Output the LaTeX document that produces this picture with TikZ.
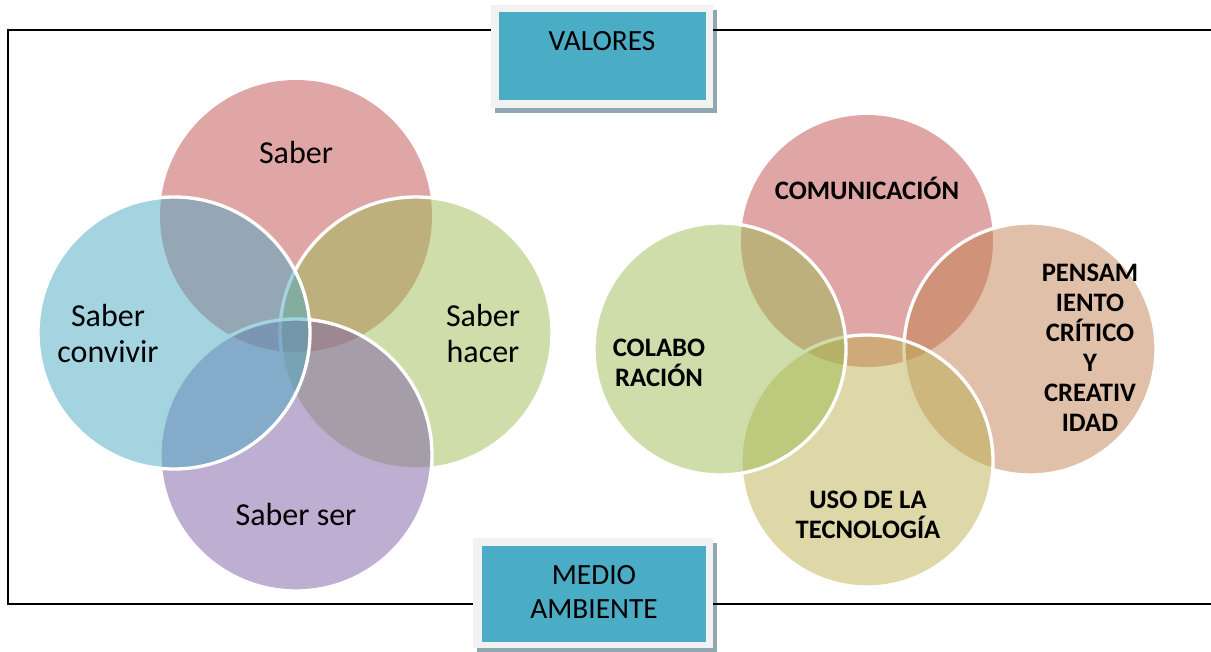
\documentclass[tikz,border=0pt]{standalone}
\usepackage{fontspec}
\setmainfont{Carlito}
\usetikzlibrary{shadows}
\definecolor{tealbox}{RGB}{75,172,198}
\definecolor{greyrim}{RGB}{242,242,242}
\definecolor{shade}{RGB}{143,168,178}
\definecolor{rosa}{RGB}{193,77,77}
\definecolor{azul}{RGB}{75,169,195}
\definecolor{verde}{RGB}{157,187,85}
\definecolor{lila}{RGB}{125,95,165}
\definecolor{naranja}{RGB}{193,129,81}
\definecolor{amarillo}{RGB}{189,175,81}

\begin{document}
\begin{tikzpicture}[x=0.75pt,y=-0.75pt,
    big/.style={circle,inner sep=0pt,minimum size=204pt,fill opacity=0.5},
    small/.style={circle,inner sep=0pt,minimum size=189pt,fill opacity=0.5},
    rim/.style={draw=white,line width=2.5pt,draw opacity=1},
    rimbox/.style={rectangle,inner sep=0pt,fill=greyrim,
      drop shadow={shadow xshift=3pt,shadow yshift=-3.5pt,fill=shade,opacity=1}},
    inbox/.style={rectangle,inner sep=0pt,fill=tealbox},
    txt/.style={align=center,font=\fontsize{24}{27}\selectfont},
    btxt/.style={align=center,font=\bfseries\fontsize{20}{22.5}\selectfont},
    boxtxt/.style={align=center,font=\fontsize{22}{25}\selectfont}]
  \useasboundingbox (0,0) rectangle (1211,652);

  % frame corners
  \coordinate (tl) at (8,30);
  \coordinate (bl) at (8,604);
  \coordinate (tr) at (1211,30);
  \coordinate (br) at (1211,604);

  % boxes
  \node[rimbox,minimum width=166.5pt,minimum height=77.25pt] (valores) at (602,56.5) {};
  \node[inbox,minimum width=155.25pt,minimum height=66pt] (valoresin) at (602.5,56) {};
  \node[boxtxt] (valorestxt) at (602,41) {VALORES};
  \node[rimbox,minimum width=180pt,minimum height=82.5pt] (medio) at (593,593) {};
  \node[inbox,minimum width=168pt,minimum height=72pt] (medioin) at (594,594) {};
  \node[boxtxt] (mediotxt) at (594,592) {MEDIO\\AMBIENTE};

  \draw[line width=1.5pt] (valores.west |- tl) -- (tl) -- (bl) -- (medio.west |- bl);
  \draw[line width=1.5pt] (valores.east |- tl) -- (tr);
  \draw[line width=1.5pt] (medio.east |- bl) -- (br);

  % saberes
  \node[big,fill=rosa] (saber) at (296,216) {};
  \node[big,fill=verde,rim] (hacer) at (416,333) {};
  \node[big,fill=lila,rim] (ser) at (296,455) {};
  \node[big,fill=azul,rim] (convivir) at (174,333) {};
  \node[txt] (tsaber) at (296,153) {Saber};
  \node[txt] (tconvivir) at (108,334) {Saber\\convivir};
  \node[txt] (thacer) at (483,334) {Saber\\hacer};
  \node[txt] (tser) at (296,515) {Saber ser};

  % competencias
  \node[small,fill=rosa] (comu) at (867,241) {};
  \node[small,fill=naranja,rim] (pensa) at (1030,349) {};
  \node[small,fill=amarillo,rim] (tecno) at (867,461) {};
  \node[small,fill=verde,rim] (colab) at (720,349) {};
  \node[btxt] (tcomu) at (867,188) {COMUNICACIÓN};
  \node[btxt] (tcolab) at (659,363) {COLABO\\RACIÓN};
  \node[btxt] (tpensa) at (1090,348) {PENSAM\\IENTO\\CRÍTICO\\Y\\CREATIV\\IDAD};
  \node[btxt] (ttecno) at (868,515) {USO DE LA\\TECNOLOGÍA};
\end{tikzpicture}
\end{document}
